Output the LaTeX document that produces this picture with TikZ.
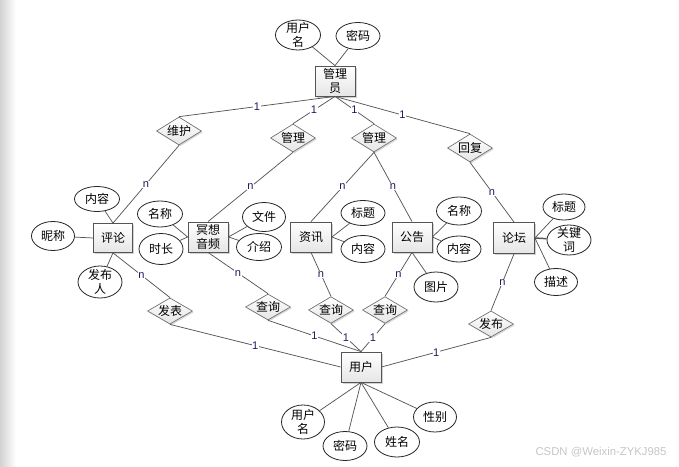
\documentclass[tikz,border=0pt]{standalone}
\usepackage{fontspec}
\setmainfont{Noto Sans CJK SC}
\newfontfamily\labfont{Liberation Sans}
\usetikzlibrary{shapes.geometric,shadows}
\definecolor{edgec}{HTML}{555555}
\definecolor{labc}{HTML}{1C1C5C}
\tikzset{
  cjk/.style={font=\fontsize{9}{10.5}\selectfont},
  ent/.style={rectangle, draw=edgec, line width=0.6pt, top color=white, bottom color=gray!20,
    drop shadow={shadow xshift=1.2pt, shadow yshift=-1.2pt, opacity=0.35, fill=gray},
    minimum width=30pt, minimum height=22.5pt, inner sep=0pt, align=center, cjk},
  rel/.style={diamond, draw=edgec!85, line width=0.5pt, top color=white, bottom color=gray!20,
    drop shadow={shadow xshift=1pt, shadow yshift=-1pt, opacity=0.3, fill=gray},
    shape aspect=1.6, minimum width=33.75pt, minimum height=21pt, inner sep=0pt, cjk},
  att/.style 2 args={ellipse, draw=black!85, line width=0.6pt, fill=white,
    minimum width=#1*0.75pt, minimum height=#2*0.75pt, inner sep=0pt, align=center, cjk},
  att2/.style 2 args={att={#1}{#2}, inner sep=-1.8pt},
  conn/.style={draw=edgec, line width=0.55pt},
  card/.style={font=\labfont\fontsize{8.3}{9}\selectfont, text=labc, fill=white, inner sep=0.4pt},
}
\begin{document}
\begin{tikzpicture}[x=0.75pt,y=-0.75pt]
\fill[white] (0,0) rectangle (679,467);
\useasboundingbox (0,0) rectangle (679,467);
\shade[left color=gray!35, right color=white] (0,0) rectangle (16,467);

% entities
\node[ent] (admin) at (335,81) {管理\\员};
\node[ent, minimum width=29.25pt, minimum height=21.75pt] (pl) at (113,238) {评论};
\node[ent] (mx) at (208,237) {冥想\\音频};
\node[ent, minimum width=30.75pt] (zx) at (311,237) {资讯};
\node[ent] (gg) at (412,237) {公告};
\node[ent, minimum width=30.75pt, minimum height=23.25pt] (lt) at (514,238) {论坛};
\node[ent] (user) at (361,367) {用户};

% relationships
\node[rel] (r1) at (179,131) {维护};
\node[rel] (r2) at (293,138) {管理};
\node[rel] (r3) at (374,138) {管理};
\node[rel] (r4) at (470,148) {回复};
\node[rel, minimum height=19.5pt] (r5) at (170,311) {发表};
\node[rel, minimum height=19.5pt] (r6) at (268,307) {查询};
\node[rel, minimum height=20pt] (r7) at (331,310) {查询};
\node[rel, minimum height=20pt] (r8) at (385,310) {查询};
\node[rel, minimum height=19.5pt] (r9) at (491,324) {发布};

% attributes
\node[att2={45}{30}] (au) at (298,35) {用户\\名};
\node[att={44}{27}] (ap) at (358,36) {密码};
\node[att={45}{25}] (plnr) at (97,199) {内容};
\node[att={43}{29}] (plnc) at (53,236) {昵称};
\node[att2={44}{32}] (plfb) at (100,282) {发布\\人};
\node[att={45}{26}] (mxmc) at (160,214) {名称};
\node[att={44}{31}] (mxsc) at (161,249) {时长};
\node[att={43}{29}] (mxwj) at (264,217) {文件};
\node[att={45}{27}] (mxjs) at (259,247) {介绍};
\node[att={44}{25}] (zxbt) at (363,213) {标题};
\node[att={44}{27}] (zxnr) at (363,249) {内容};
\node[att={45}{28}] (ggmc) at (459,211) {名称};
\node[att={44}{26}] (ggnr) at (459,249) {内容};
\node[att={44}{30}] (ggtp) at (436,287) {图片};
\node[att={42}{26}] (ltbt) at (564,207) {标题};
\node[att2={44}{30}] (ltgj) at (569,240) {关键\\词};
\node[att={43}{27}] (ltms) at (556,282) {描述};
\node[att2={43}{34}] (uyh) at (303,422) {用户\\名};
\node[att={44}{29}] (umm) at (345,446) {密码};
\node[att={45}{30}] (uxm) at (397,442) {姓名};
\node[att={43}{30}] (uxb) at (435,417) {性别};

% attribute links
\draw[conn] (admin.north) -- (au);
\draw[conn] (admin.north) -- (ap);
\draw[conn] (pl.north) -- (plnr);
\draw[conn] (pl.west) -- (plnc);
\draw[conn] (pl.south) -- (plfb);
\draw[conn] (mx.west) -- (mxmc);
\draw[conn] (mx.west) -- (mxsc);
\draw[conn] (mx.east) -- (mxwj);
\draw[conn] (mx.east) -- (mxjs);
\draw[conn] (zx.east) -- (zxbt);
\draw[conn] (zx.east) -- (zxnr);
\draw[conn] (gg.east) -- (ggmc);
\draw[conn] (gg.east) -- (ggnr);
\draw[conn] (gg.south) -- (ggtp);
\draw[conn] (lt.east) -- (ltbt);
\draw[conn, line width=1.1pt] (lt.east) -- (ltgj);
\draw[conn] (lt.east) -- (ltms);
\draw[conn] (user.south) -- (uyh);
\draw[conn] (user.south) -- (umm);
\draw[conn] (user.south) -- (uxm);
\draw[conn] (user.south) -- (uxb);

% relationship links
\draw[conn] (admin.south) -- node[card] {1} (r1.north);
\draw[conn] (admin.south) -- node[card] {1} (r2.north);
\draw[conn] (admin.south) -- node[card] {1} (r3.north);
\draw[conn] (admin.south) -- node[card] {1} (r4.north);
\draw[conn] (r1.south) -- node[card] {n} (pl.north);
\draw[conn] (r2.south) -- node[card] {n} (mx.north);
\draw[conn] (r3.south) -- node[card] {n} (zx.north);
\draw[conn] (r3.south) -- node[card] {n} (gg.north);
\draw[conn] (r4.south) -- node[card] {n} (lt.north);
\draw[conn] (pl.south) -- node[card] {n} (r5.north);
\draw[conn] (mx.south) -- node[card] {n} (r6.north);
\draw[conn] (zx.south) -- node[card] {n} (r7.north);
\draw[conn] (gg.south) -- node[card] {n} (r8.north);
\draw[conn] (lt.south) -- node[card] {n} (r9.north);
\draw[conn] (r5.south) -- node[card] {1} (user.west);
\draw[conn] (r6.south) -- node[card] {1} (user.north);
\draw[conn] (r7.south) -- node[card] {1} (user.north);
\draw[conn] (r8.south) -- node[card] {1} (user.north);
\draw[conn] (r9.south) -- node[card] {1} (user.east);

% watermark
\node[font=\labfont\fontsize{8.5}{9}\selectfont, text=gray!45] (wm) at (601,452) {CSDN @Weixin-ZYKJ985};
\end{tikzpicture}
\end{document}
